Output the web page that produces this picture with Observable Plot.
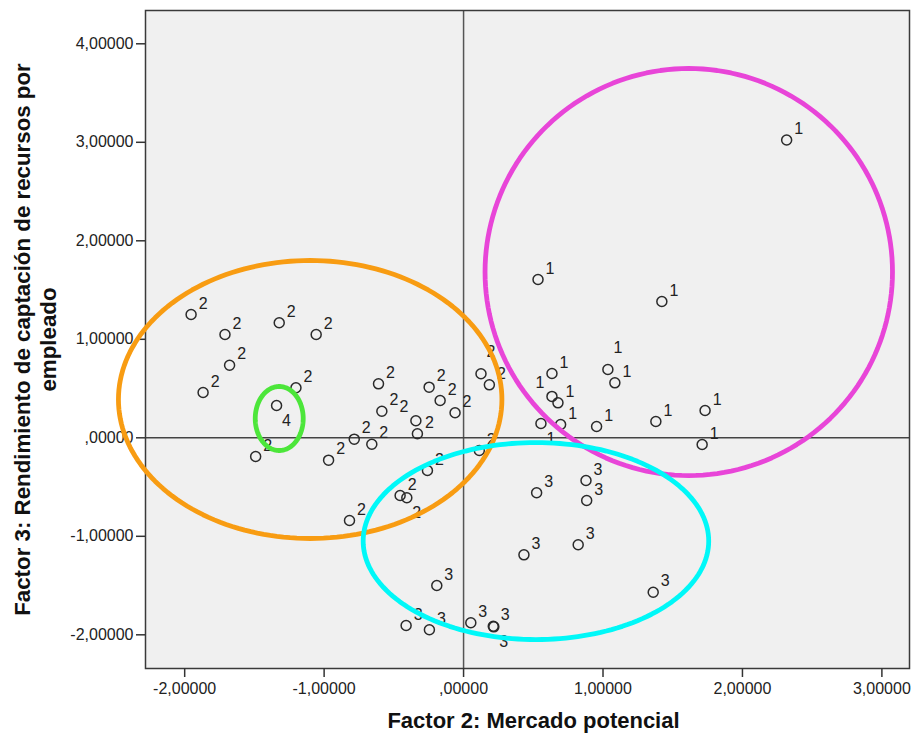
<!DOCTYPE html>
<html><head><meta charset="utf-8">
<script src="https://cdn.jsdelivr.net/npm/d3@7"></script>
<script src="https://cdn.jsdelivr.net/npm/@observablehq/plot@0.6"></script>
<style>body{margin:0;background:#fff} svg{display:block}</style>
</head><body><div id="chart"></div>
<script>
// Cluster 1
const c1x = [2.317, 0.534, 1.422, 0.634, 1.035, 1.085, 0.634, 0.677, 0.555, 0.696, 0.954, 1.379, 1.732, 1.711];
const c1y = [3.023, 1.607, 1.384, 0.653, 0.694, 0.558, 0.420, 0.355, 0.145, 0.135, 0.115, 0.166, 0.277, -0.068];
const c1place = ["ur","ur","ur","ur","uu","ur","ul","ur","lr","ur","ur","ur","ur","ur"];
// Cluster 2
const c2x = [-1.954, -1.711, -1.322, -1.057, -1.678, -1.868, -1.202, -1.491, -0.968, -0.610, -0.586, -0.784, -0.658, -0.247, -0.168, -0.342, -0.331, -0.061, 0.125, 0.185, 0.113, -0.259, -0.455, -0.407, -0.818];
const c2y = [1.252, 1.049, 1.168, 1.049, 0.737, 0.460, 0.508, -0.190, -0.227, 0.548, 0.270, -0.014, -0.065, 0.514, 0.379, 0.173, 0.041, 0.254, 0.650, 0.538, -0.129, -0.332, -0.586, -0.609, -0.840];
const c2place = ["ur","ur","ur","ur","ur","ur","ur","ur","ur","ur","ur","ur","ur","ur","ur","ul","ur","ur","uu","ur","ur","ur","ur","lr","ur"];
// Cluster 3
const c3x = [0.524, 0.878, 0.883, 0.433, 0.822, -0.192, -0.412, -0.245, 0.052, 0.213, 0.217, 1.360];
const c3y = [-0.558, -0.433, -0.637, -1.188, -1.086, -1.499, -1.906, -1.949, -1.878, -1.914, -1.919, -1.568];
const c3place = ["ur","ur","ur","ur","ur","ur","ur","ur","ur","ur","lr","ur"];
// Cluster 4
const c4x = [-1.341];
const c4y = [0.328];
const c4place = ["lr"];

const clusterNames = ["1", "2", "3", "4"];

// Hand-drawn ellipses (centre and radii in data units)
const ellipseNames = ["orange", "magenta", "cyan", "green"];
const ellipseColors = ["#F89C12", "#E845D8", "#00F8F8", "#4CE63A"];
const ellipseCx = [-1.100, 1.615, 0.519, -1.322];
const ellipseCy = [0.389, 1.683, -1.048, 0.196];
const ellipseRx = [1.375, 1.461, 1.239, 0.172];
const ellipseRy = [1.411, 2.066, 1.000, 0.325];

const xTicks = [-2, -1, 0, 1, 2, 3];
const xTickLabels = ["-2,00000", "-1,00000", ",00000", "1,00000", "2,00000", "3,00000"];
const yTicks = [-2, -1, 0, 1, 2, 3, 4];
const yTickLabels = ["-2,00000", "-1,00000", ",00000", "1,00000", "2,00000", "3,00000", "4,00000"];

const xTitle = "Factor 2: Mercado potencial";
const yTitle = "Factor 3: Rendimiento de captación de recursos por\nempleado";

// Build table
const points = [];
[[c1x, c1y, c1place], [c2x, c2y, c2place], [c3x, c3y, c3place], [c4x, c4y, c4place]].forEach(([xs, ys, pl], k) => {
  xs.forEach((x, i) => points.push({x, y: ys[i], cluster: clusterNames[k], place: pl[i]}));
});

const offsets = {ur: [12, -11], ul: [-12, -14], lr: [10, 15], uu: [10, -22]};
const labelMarks = Object.entries(offsets).map(([key, [dx, dy]]) =>
  Plot.text(points.filter(d => d.place === key), {x: "x", y: "y", text: "cluster", dx, dy, fontSize: 16, fill: "#222", textAnchor: "middle"})
);

const ellipseMarks = ellipseNames.map((name, k) => {
  const pts = d3.range(0, 361, 2).map(a => {
    const t = a * Math.PI / 180;
    return {x: ellipseCx[k] + ellipseRx[k] * Math.cos(t), y: ellipseCy[k] + ellipseRy[k] * Math.sin(t)};
  });
  return Plot.line(pts, {x: "x", y: "y", stroke: ellipseColors[k], strokeWidth: 4.8});
});

const chart = Plot.plot({
  width: 913,
  height: 740,
  marginLeft: 145,
  marginRight: 4,
  marginTop: 10,
  marginBottom: 72,
  style: {fontFamily: "'Liberation Sans', Arial, sans-serif", background: "#fff", color: "#222", overflow: "visible"},
  x: {domain: [-2.281, 3.198]},
  y: {domain: [-2.342, 4.338]},
  marks: [
    Plot.frame({fill: "#f0f0f0"}),
    Plot.ruleX([0], {stroke: "#555", strokeWidth: 1.5}),
    Plot.ruleY([0], {stroke: "#444", strokeWidth: 1.5}),
    Plot.frame({stroke: "#3a3a3a", strokeWidth: 1.5}),
    Plot.axisX(xTicks, {tickFormat: d => xTickLabels[xTicks.indexOf(d)], tickSize: 9, tickPadding: 5, fontSize: 16, label: null, stroke: "#333", strokeWidth: 1.5}),
    Plot.axisY(yTicks, {tickFormat: d => yTickLabels[yTicks.indexOf(d)], tickSize: 9, tickPadding: 3, fontSize: 16, label: null, stroke: "#333", strokeWidth: 1.5}),
    Plot.dot(points, {x: "x", y: "y", r: 5, stroke: "#2a2a2a", strokeWidth: 1.5, fill: "none"}),
    ...labelMarks,
    ...ellipseMarks,
    Plot.text([xTitle], {text: d => d, frameAnchor: "bottom", dy: 59, dx: 6, fontSize: 22, fontWeight: "bold", fill: "#111"}),
    Plot.text([yTitle], {text: d => d, frameAnchor: "left", textAnchor: "middle", dx: -110.5, rotate: -90, fontSize: 22.3, lineHeight: 1.13, fontWeight: "bold", fill: "#111"})
  ]
});
document.getElementById("chart").appendChild(chart);
</script>
</body></html>
